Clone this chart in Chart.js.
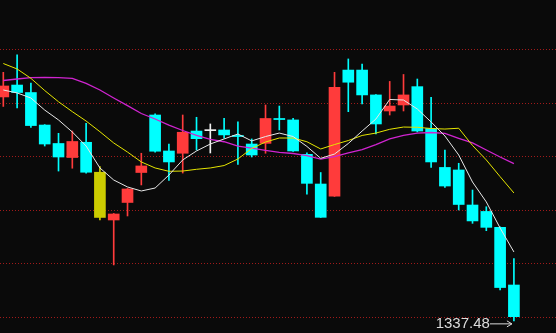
<!DOCTYPE html>
<html><head><meta charset="utf-8">
<script src="https://cdn.jsdelivr.net/npm/chart.js@4.4.0/dist/chart.umd.min.js"></script>
<style>html,body{margin:0;padding:0;background:#0a0a0a;}canvas{display:block;}</style>
</head><body>
<canvas id="c" width="556" height="333"></canvas>
<script>
// ---- data ----
const opens  = [1504.9,1513.8,1508.2,1483.9,1470.1,1459.6,1471.0,1448.6,1412.9,1426.0,1448.4,1491.4,1464.5,1462.8,1479.4,1479.7,1480.2,1476.1,1469.7,1470.2,1488.8,1487.7,1462.0,1439.8,1430.8,1525.0,1525.0,1506.4,1494.4,1498.9,1512.6,1481.3,1452.2,1450.3,1424.1,1419.3,1407.4,1364.3];
const highs  = [1523.3,1536.3,1515.3,1484.2,1477.7,1479.4,1485.2,1452.8,1417.8,1436.5,1462.8,1492.2,1469.7,1491.4,1489.7,1484.7,1488.9,1486.2,1473.5,1498.9,1498.1,1488.9,1463.2,1448.4,1523.3,1533.3,1529.5,1506.7,1516.5,1521.7,1518.3,1504.6,1465.2,1455.3,1435.3,1422.8,1407.7,1384.1];
const lows   = [1497.8,1496.6,1482.1,1468.2,1449.5,1451.6,1448.0,1412.9,1379.3,1415.9,1439.1,1463.7,1442.4,1448.0,1465.2,1463.0,1474.0,1454.4,1460.0,1462.8,1480.2,1464.1,1432.3,1414.8,1430.5,1493.9,1499.6,1477.2,1491.4,1494.4,1478.7,1452.3,1437.2,1420.4,1410.4,1404.9,1360.6,1337.48];
const closes = [1513.1,1508.2,1483.5,1469.7,1460.0,1471.6,1448.6,1414.8,1417.4,1436.1,1453.3,1464.3,1456.3,1478.5,1473.7,1479.7,1476.5,1475.3,1461.5,1488.8,1488.0,1464.5,1440.3,1414.9,1512.1,1515.9,1506.4,1484.7,1498.1,1506.4,1479.4,1456.3,1438.3,1424.5,1412.2,1407.4,1362.4,1340.6];
const ma5  = [1510.1,1507.9,1504.1,1495.1,1487.7,1478.7,1468.2,1451.8,1442.8,1437.6,1434.6,1436.8,1446.5,1457.8,1464.5,1469.7,1473.5,1477.2,1472.0,1475.3,1477.9,1475.3,1467.9,1459.0,1462.2,1470.1,1479.4,1488.4,1503.0,1502.6,1495.9,1486.2,1475.7,1461.5,1441.3,1426.4,1406.9,1389.0];
const ma10 = [1529.9,1525.8,1518.8,1509.7,1501.3,1493.9,1486.9,1478.9,1470.5,1463.7,1456.3,1451.8,1449.3,1449.5,1450.8,1451.8,1453.6,1458.5,1466.4,1471.2,1474.2,1474.2,1471.4,1466.0,1469.3,1472.3,1476.1,1477.9,1480.7,1482.4,1482.2,1481.3,1480.9,1481.5,1468.6,1457.8,1445.3,1433.1];
const ma20 = [1517.2,1518.3,1519.3,1519.6,1519.3,1518.8,1515.1,1510.1,1504.1,1498.4,1492.5,1488.4,1483.9,1479.8,1476.1,1473.2,1471.4,1468.2,1466.7,1464.9,1463.5,1462.6,1461.1,1458.4,1460.2,1463.0,1465.6,1469.3,1473.5,1476.1,1477.9,1478.3,1477.7,1474.0,1470.5,1465.2,1460.0,1455.1];
const gridValues = [1340,1380,1420,1460,1500,1540];
const highlightIndex = 7;

// ---- styles ----
const RED = '#ff3b3b', CYAN = '#00ffff', YELLOW = '#cccc00', WHITE = '#f0f0f0';
const idx = opens.map((_, i) => i);
const candleColor = idx.map(i => i === highlightIndex ? YELLOW :
  closes[i] > opens[i] ? RED : (closes[i] < opens[i] ? CYAN : WHITE));

const lowLabel = {
  id: 'lowLabel',
  afterDatasetsDraw(chart) {
    const {ctx, scales: {x, y}} = chart;
    let li = 0;
    lows.forEach((v, i) => { if (v < lows[li]) li = i; });
    const px = x.getPixelForValue(li);
    const py = y.getPixelForValue(lows[li]) + 3;
    const ax0 = px - 24, ax1 = px - 2;
    ctx.save();
    ctx.strokeStyle = '#dcdcdc';
    ctx.lineWidth = 1;
    ctx.beginPath();
    ctx.moveTo(ax0, py); ctx.lineTo(ax1, py);
    ctx.moveTo(ax1 - 5, py - 3); ctx.lineTo(ax1, py); ctx.lineTo(ax1 - 5, py + 3);
    ctx.stroke();
    ctx.fillStyle = '#dcdcdc';
    ctx.font = '15px "Liberation Sans", Arial, sans-serif';
    ctx.textAlign = 'right';
    ctx.textBaseline = 'middle';
    ctx.fillText(lows[li].toFixed(2), ax0, py);
    ctx.restore();
  }
};

new Chart(document.getElementById('c'), {
  type: 'bar',
  data: {
    datasets: [
      { type: 'line', data: idx.map(i => ({x: i, y: ma5[i]})), borderColor: '#e8e8e8', borderWidth: 1, pointRadius: 0, tension: 0, order: 0 },
      { type: 'line', data: idx.map(i => ({x: i, y: ma10[i]})), borderColor: '#e6e600', borderWidth: 1, pointRadius: 0, tension: 0, order: 0 },
      { type: 'line', data: idx.map(i => ({x: i, y: ma20[i]})), borderColor: '#d024d0', borderWidth: 1.3, pointRadius: 0, tension: 0, order: 0 },
      { type: 'bar', data: idx.map(i => ({x: i, y: [opens[i], closes[i]]})), backgroundColor: candleColor, barThickness: 11, minBarLength: 1, grouped: false, borderWidth: 0, order: 2 },
      { type: 'bar', data: idx.map(i => ({x: i, y: [lows[i], highs[i]]})), backgroundColor: candleColor, barThickness: 1, grouped: false, borderWidth: 0, order: 3 }
    ]
  },
  options: {
    responsive: false,
    animation: false,
    devicePixelRatio: 1,
    layout: { padding: 0 },
    plugins: { legend: { display: false }, tooltip: { enabled: false } },
    scales: {
      x: { type: 'linear', min: -0.24, max: 40.05, offset: false, display: false },
      y: {
        type: 'linear', min: 1328.41, max: 1577.38,
        ticks: { display: false },
        grid: { color: 'rgba(160,26,26,1)', lineWidth: 1, drawTicks: false },
        border: { display: false, dash: [1, 2] },
        afterBuildTicks: (s) => { s.ticks = gridValues.map(v => ({value: v})); },
        afterFit: (s) => { s.width = 0; }
      }
    }
  },
  plugins: [lowLabel]
});
</script>
</body></html>
